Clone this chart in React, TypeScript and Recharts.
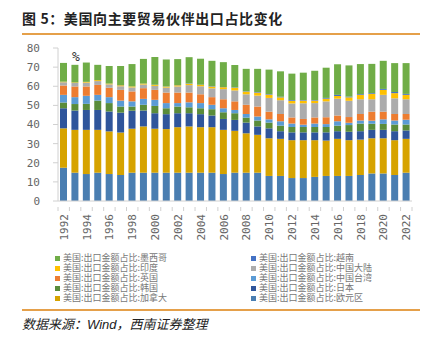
import React from "react";
import { BarChart, Bar, XAxis, YAxis } from "recharts";

const years = [
  "1992","1993","1994","1995","1996","1997","1998","1999","2000","2001",
  "2002","2003","2004","2005","2006","2007","2008","2009","2010","2011",
  "2012","2013","2014","2015","2016","2017","2018","2019","2020","2021","2022",
];

// stacked bottom -> top
const euroArea = [17.4,14.8,14.1,14.8,14.1,13.6,14.8,14.8,14.8,14.8,14.8,14.8,14.8,14.8,14.1,14.8,14.8,14.8,13.1,13.1,12.0,12.0,12.6,13.1,13.1,13.1,13.6,14.4,14.4,13.6,14.8];
const canada = [20.6,22.4,23.1,22.4,22.3,22.2,23.0,24.2,23.0,22.8,23.8,24.2,23.8,23.8,23.1,21.9,20.6,19.8,19.7,19.4,19.8,19.8,19.2,18.5,19.4,18.7,18.5,18.4,18.4,18.2,17.7];
const japan = [10.5,10.1,10.4,10.4,10.4,10.4,9.4,8.3,8.1,7.8,7.3,6.9,6.8,6.1,5.7,5.7,5.6,4.4,5.2,4.0,4.1,4.1,4.1,4.3,4.0,4.4,4.4,4.4,4.4,4.7,4.4];
const korea = [3.0,3.4,3.2,4.9,4.4,3.2,2.2,3.0,3.8,3.1,3.5,3.1,3.1,3.3,3.5,3.5,2.6,3.1,3.0,2.9,2.8,2.8,2.8,2.8,2.9,3.5,4.0,3.2,3.1,3.5,3.1];
const taiwan = [4.0,3.6,4.2,3.0,3.1,3.1,2.7,3.1,3.2,2.7,1.8,2.6,2.7,2.3,2.1,1.7,1.9,2.1,1.7,2.3,1.8,1.2,1.8,1.5,2.3,1.2,1.6,1.6,2.4,2.1,2.5];
const uk = [4.9,5.6,4.9,5.2,4.9,5.6,5.2,5.6,5.2,5.5,5.5,5.1,4.6,4.0,4.7,4.5,4.8,5.2,4.0,3.8,3.2,3.0,3.2,3.6,3.0,3.0,3.4,4.7,4.0,3.4,3.0];
const china = [1.7,1.8,2.0,2.0,1.8,1.9,2.1,1.9,2.1,2.6,3.2,3.9,4.2,4.6,5.3,5.7,5.5,5.7,7.2,7.2,7.3,8.2,7.5,8.3,8.8,8.5,7.7,6.5,8.8,8.2,7.7];
const india = [0.3,0.3,0.4,0.5,0.4,0.5,0.5,0.5,0.5,0.5,0.6,0.7,0.7,0.9,1.0,1.4,1.4,1.6,1.7,1.5,1.4,1.4,1.3,1.4,1.4,1.8,2.3,2.8,2.6,2.7,2.3];
const vietnam = [0.0,0.0,0.0,0.0,0.0,0.1,0.0,0.0,0.1,0.1,0.1,0.2,0.1,0.2,0.1,0.2,0.2,0.3,0.3,0.3,0.4,0.3,0.3,0.4,0.6,0.4,0.4,0.4,0.5,0.6,0.5];
const mexico = [9.8,9.2,10.1,8.0,9.2,10.0,11.7,12.9,14.5,14.1,13.6,13.7,13.6,13.3,13.0,11.7,11.7,12.1,12.8,13.3,13.8,14.3,15.3,15.8,16.0,16.3,15.7,15.3,14.7,15.1,16.1];

const yTicks = [0, 10, 20, 30, 40, 50, 60, 70, 80];

const series = [
  { key: "euroArea", name: "美国:出口金额占比:欧元区", values: euroArea, color: "#4A7EB1" },
  { key: "canada", name: "美国:出口金额占比:加拿大", values: canada, color: "#D6A300" },
  { key: "japan", name: "美国:出口金额占比:日本", values: japan, color: "#2F559B" },
  { key: "korea", name: "美国:出口金额占比:韩国", values: korea, color: "#5A8C3A" },
  { key: "taiwan", name: "美国:出口金额占比:中国台湾", values: taiwan, color: "#5B9BD5" },
  { key: "uk", name: "美国:出口金额占比:英国", values: uk, color: "#ED7D31" },
  { key: "china", name: "美国:出口金额占比:中国大陆", values: china, color: "#ACACAC" },
  { key: "india", name: "美国:出口金额占比:印度", values: india, color: "#FFC000" },
  { key: "vietnam", name: "美国:出口金额占比:越南", values: vietnam, color: "#4472C4" },
  { key: "mexico", name: "美国:出口金额占比:墨西哥", values: mexico, color: "#70AD47" },
];

const data = years.map((y, i) => {
  const row: Record<string, any> = { year: y };
  series.forEach((s) => (row[s.key] = s.values[i]));
  return row;
});

const legendItems = [...series].reverse();

const mono = "'DejaVu Sans Mono', monospace";
const cjk = "'Noto Sans CJK SC', sans-serif";

const XTick = (props: any) => {
  const { x, y, payload, index } = props;
  const band = 354 / years.length;
  const show = index % 2 === 0;
  return (
    <g>
      <line x1={x + band / 2} x2={x + band / 2} y1={y - 6} y2={y - 2} stroke="#d0d0d0" />
      {index === 0 && (
        <line x1={x - band / 2} x2={x - band / 2} y1={y - 6} y2={y - 2} stroke="#d0d0d0" />
      )}
      {show && (
        <text
          transform={`translate(${x},${y + 1}) rotate(-90)`}
          textAnchor="end"
          dy="0.36em"
          fontFamily={mono}
          fontSize={11}
          fill="#666"
        >
          {payload.value}
        </text>
      )}
    </g>
  );
};

export default function App() {
  return (
    <div
      style={{
        position: "fixed",
        left: 0,
        top: 0,
        width: 428,
        height: 342,
        background: "#fff",
        overflow: "hidden",
      }}
    >
      <div
        style={{
          position: "absolute",
          left: 22,
          top: 9,
          fontFamily: cjk,
          fontWeight: 700,
          fontSize: 14,
          letterSpacing: 0.6,
          lineHeight: "18px",
          color: "#222",
          whiteSpace: "nowrap",
        }}
      >
        图 5：美国向主要贸易伙伴出口占比变化
      </div>
      <div style={{ position: "absolute", left: 22, top: 33, width: 398, height: 1.5, background: "#E5A04A" }} />
      <div
        style={{
          position: "absolute",
          left: 0,
          top: 0,
        }}
      >
        <BarChart
          width={428}
          height={245}
          data={data}
          margin={{ top: 48, right: 16, left: 0, bottom: 0 }}
          barSize={7}
        >
          <XAxis
            dataKey="year"
            interval={0}
            height={44}
            tickLine={false}
            axisLine={{ stroke: "#d0d0d0" }}
            tick={<XTick />}
            tickMargin={6}
          />
          <YAxis
            width={58}
            domain={[0, 80]}
            ticks={yTicks}
            interval={0}
            tickSize={5}
            tickMargin={13}
            axisLine={{ stroke: "#d0d0d0" }}
            tickLine={{ stroke: "#d0d0d0" }}
            tick={{ fontFamily: mono, fontSize: 11, fill: "#666" }}
          />
          {series.map((s) => (
            <Bar
              key={s.key}
              dataKey={s.key}
              name={s.name}
              stackId="a"
              fill={s.color}
              isAnimationActive={false}
            />
          ))}
        </BarChart>
      </div>
      <div
        style={{
          position: "absolute",
          left: 72,
          top: 50,
          fontFamily: mono,
          fontSize: 13,
          lineHeight: "14px",
          color: "#333",
        }}
      >
        %
      </div>
      <div
        style={{
          position: "absolute",
          left: 55,
          top: 253,
          display: "grid",
          gridTemplateColumns: "196px 170px",
          rowGap: 0,
        }}
      >
        {legendItems.map((s) => (
          <div
            key={s.key}
            style={{
              display: "flex",
              alignItems: "center",
              height: 10,
              lineHeight: "10px",
              fontFamily: cjk,
              fontSize: 9,
              color: "#777",
              whiteSpace: "nowrap",
            }}
          >
            <span style={{ display: "inline-block", width: 5, height: 5, background: s.color, marginRight: 3 }} />
            <span style={{ lineHeight: "10px" }}>{s.name}</span>
          </div>
        ))}
      </div>
      <div style={{ position: "absolute", left: 22, top: 309, width: 398, height: 1.5, background: "#E5A04A" }} />
      <div
        style={{
          position: "absolute",
          left: 22,
          top: 316,
          fontFamily: cjk,
          fontStyle: "italic",
          fontSize: 13,
          lineHeight: "16px",
          color: "#222",
          whiteSpace: "nowrap",
        }}
      >
        数据来源：<span style={{ fontFamily: "'Liberation Sans', Arial, sans-serif" }}>Wind</span>，西南证券整理
      </div>
    </div>
  );
}
